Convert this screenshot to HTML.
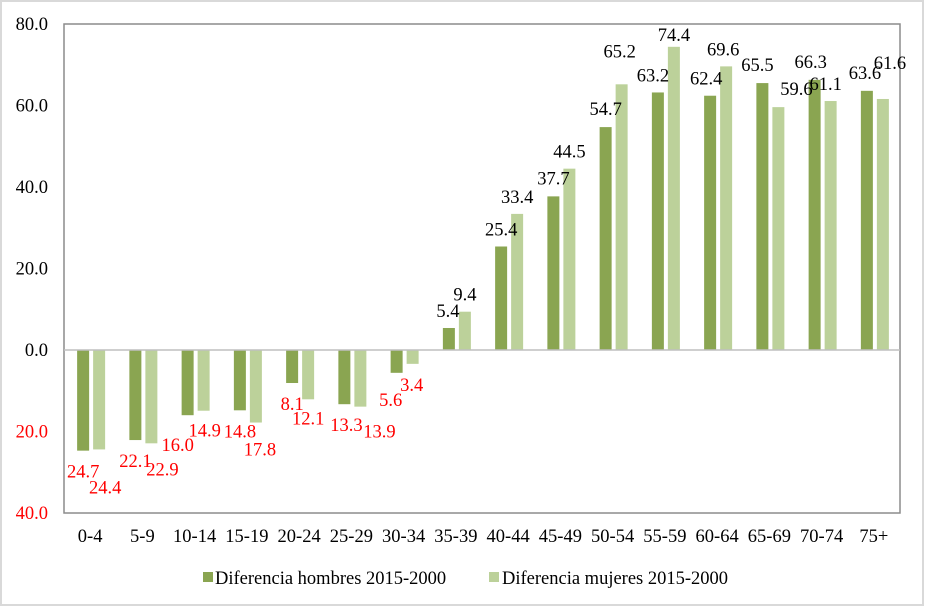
<!DOCTYPE html>
<html><head><meta charset="utf-8"><style>
html,body{margin:0;padding:0;background:#fff}
svg{display:block;font-family:"Liberation Serif",serif}
</style></head><body>
<svg id="chart" width="925" height="607" viewBox="0 0 925 607">
<rect x="1" y="1" width="922" height="604" fill="#fff" stroke="#d9d9d9" stroke-width="2"/>
<rect x="64" y="24" width="836" height="489" fill="none" stroke="#8c8c8c" stroke-width="1.5"/>
<g id="bars"></g><g id="labels"></g><g id="axes"></g>
<g>
<rect x="203" y="572" width="10" height="10" fill="#8aa551"/>
<text x="215" y="584" font-size="18.5">Diferencia hombres 2015-2000</text>
<rect x="489" y="572" width="10" height="10" fill="#bcd19a"/>
<text x="502" y="584" font-size="18.5">Diferencia mujeres 2015-2000</text>
</g>
</svg>
<script>
const categories=["0-4","5-9","10-14","15-19","20-24","25-29","30-34","35-39","40-44","45-49","50-54","55-59","60-64","65-69","70-74","75+"];
const hombres=[-24.7,-22.1,-16.0,-14.8,-8.1,-13.3,-5.6,5.4,25.4,37.7,54.7,63.2,62.4,65.5,66.3,63.6];
const mujeres=[-24.4,-22.9,-14.9,-17.8,-12.1,-13.9,-3.4,9.4,33.4,44.5,65.2,74.4,69.6,59.6,61.1,61.6];
const yTicks=[80,60,40,20,0,-20,-40];
// label nudges (style only)
const hDx=[0,0,-10,0,0,2,-6,-1,0,0,0,-5,-4,-5,-4,-2];
const hDy=[21,21,30,21,21,21,27,-17,-17,-18,-18,-17,-17,-18,-18,-18];
const mDx=[6,11,1,4,0,19,-1,0,0,0,-2,0,-3,18,-5,7];
const mDy=[38,26,20,27,19,25,21,-17,-17,-17,-33,-12,-17,-18,-17,-36];
const NS="http://www.w3.org/2000/svg";
const L=64,R=900,T=24,B=513,yMin=-40,yMax=80;
const band=(R-L)/categories.length;
const FS=18.5;
function y(v){return T+(yMax-v)/(yMax-yMin)*(B-T);}
function xc(i){return L+band*(i+0.5);}
function mk(tag,a,p){const e=document.createElementNS(NS,tag);for(const k in a)e.setAttribute(k,a[k]);p.appendChild(e);return e;}
const gb=document.getElementById('bars'),gl=document.getElementById('labels'),ga=document.getElementById('axes');
const bw=12;
function fmt(v){return Math.abs(v).toFixed(1);}
categories.forEach((c,i)=>{
 [[hombres,'#8aa551',-13,hDx,hDy,'hombres'],[mujeres,'#bcd19a',3,mDx,mDy,'mujeres']].forEach(([arr,col,off,dx,dy,nm])=>{
  const v=arr[i],x=xc(i)+off,y0=y(0),y1=y(v);
  const r=mk('rect',{x:x,y:Math.min(y0,y1),width:bw,height:Math.abs(y1-y0),fill:col},gb);
  
  
  const t=mk('text',{x:x+bw/2+dx[i],y:y1+dy[i]+6,'text-anchor':'middle','font-size':FS,fill:v<0?'#ff0000':'#000'},gl);
  t.textContent=fmt(v);
  
  
 });
 const t=mk('text',{x:xc(i),y:542,'text-anchor':'middle','font-size':FS},ga);
 t.textContent=c;
 
 
});
const zl=mk('line',{x1:L,x2:R,y1:y(0),y2:y(0),stroke:'#bfbfbf','stroke-width':1.5},ga);


yTicks.forEach(v=>{
 const t=mk('text',{x:48,y:y(v)+6,'text-anchor':'end','font-size':FS,fill:v<0?'#ff0000':'#000'},ga);
 t.textContent=fmt(v);
 
 
});
</script>
</body></html>
